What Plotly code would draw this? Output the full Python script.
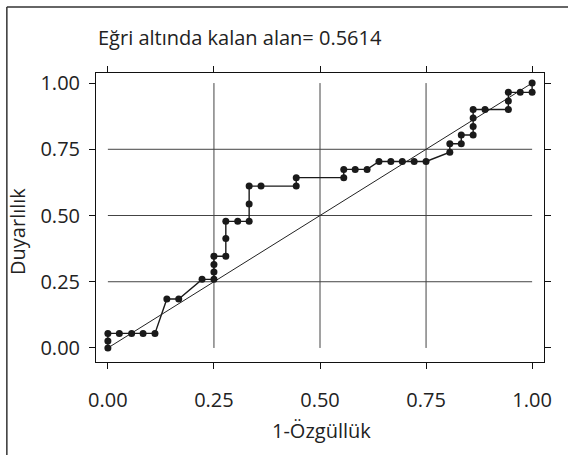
import plotly.graph_objects as go

# ROC curve points (1-specificity, sensitivity)
fpr = [0.000, 0.000, 0.000, 0.027, 0.056, 0.083, 0.111, 0.139, 0.167, 0.222,
       0.250, 0.250, 0.250, 0.250, 0.278, 0.278, 0.278, 0.306, 0.333, 0.333,
       0.333, 0.361, 0.444, 0.444, 0.556, 0.556, 0.583, 0.611, 0.639, 0.667,
       0.694, 0.722, 0.750, 0.806, 0.806, 0.833, 0.833, 0.861, 0.861, 0.861,
       0.861, 0.889, 0.944, 0.944, 0.944, 0.972, 1.000, 1.000]
tpr = [0.000, 0.026, 0.055, 0.055, 0.055, 0.055, 0.055, 0.185, 0.185, 0.259,
       0.259, 0.287, 0.315, 0.346, 0.346, 0.413, 0.478, 0.478, 0.478, 0.543,
       0.611, 0.611, 0.611, 0.643, 0.643, 0.674, 0.674, 0.674, 0.704, 0.704,
       0.704, 0.704, 0.704, 0.739, 0.771, 0.771, 0.804, 0.804, 0.836, 0.868,
       0.900, 0.900, 0.900, 0.932, 0.965, 0.965, 0.965, 1.000]

ref_x = [0, 1]
ref_y = [0, 1]

tick_vals = [0, 0.25, 0.5, 0.75, 1.0]
tick_text = ["0.00", "0.25", "0.50", "0.75", "1.00"]
grid_vals = [0.25, 0.5, 0.75]

title_text = "Eğri altında kalan alan= 0.5614"
x_title = "1-Özgüllük"
y_title = "Duyarlılık"

FONT = "Open Sans"
TXT = "#222222"
XR = [-0.028, 1.028]
YR = [-0.053, 1.038]

fig = go.Figure()
fig.add_trace(go.Scatter(x=ref_x, y=ref_y, mode="lines",
                         line=dict(color="#222222", width=1), hoverinfo="skip"))
fig.add_trace(go.Scatter(x=fpr, y=tpr, mode="lines+markers",
                         line=dict(color="#1a1a1a", width=1.4),
                         marker=dict(color="#1a1a1a", size=7)))
# invisible trace so the mirrored top/right axes are drawn
fig.add_trace(go.Scatter(x=ref_x, y=ref_y, xaxis="x2", yaxis="y2", mode="lines",
                         line=dict(width=0), opacity=0, hoverinfo="skip"))

shapes = []
for g in grid_vals:
    shapes.append(dict(type="line", xref="x", yref="y", x0=g, x1=g, y0=0, y1=1,
                       line=dict(color="#444444", width=1), layer="below"))
    shapes.append(dict(type="line", xref="x", yref="y", x0=0, x1=1, y0=g, y1=g,
                       line=dict(color="#444444", width=1), layer="below"))
# outer frame (top and left edges)
shapes.append(dict(type="line", xref="paper", yref="paper", x0=-0.199, x1=1.2,
                   y0=1.2284, y1=1.2284, line=dict(color="#333333", width=1.5)))
shapes.append(dict(type="line", xref="paper", yref="paper", x0=-0.199, x1=-0.199,
                   y0=1.2284, y1=-0.4, line=dict(color="#333333", width=1.5)))

axis_common = dict(
    tickmode="array", tickvals=tick_vals, ticktext=tick_text,
    showgrid=False, zeroline=False, showline=True, linecolor="#111111",
    linewidth=1, ticks="outside", ticklen=6, tickwidth=1,
    tickcolor="#111111", tickfont=dict(family=FONT, size=20, color=TXT),
)

fig.update_layout(
    width=568, height=455,
    margin=dict(l=96, r=24, t=73, b=93),
    paper_bgcolor="white", plot_bgcolor="white",
    showlegend=False,
    shapes=shapes,
    xaxis=dict(range=XR, ticklabelstandoff=14, **axis_common),
    yaxis=dict(range=YR, ticklabelstandoff=5, **axis_common),
    xaxis2=dict(range=XR, overlaying="x", side="top", anchor="y", showticklabels=False,
                **axis_common),
    yaxis2=dict(range=YR, overlaying="y", side="right", anchor="x", showticklabels=False,
                **axis_common),
    annotations=[
        dict(text=title_text, xref="paper", yref="paper", x=0.0, y=1.0 + (73 - 38) / 289,
             xanchor="left", yanchor="middle", showarrow=False,
             font=dict(family=FONT, size=20, color=TXT)),
        dict(text=x_title, xref="paper", yref="paper", x=0.504, y=(362 - 430) / 289,
             xanchor="center", yanchor="middle", showarrow=False,
             font=dict(family=FONT, size=20, color=TXT)),
        dict(text=y_title, xref="paper", yref="paper", x=(18 - 96) / 448, y=0.45,
             xanchor="center", yanchor="middle", showarrow=False, textangle=-90,
             font=dict(family=FONT, size=20, color=TXT)),
    ],
)

fig.write_html("out.html", config={"displayModeBar": False},
               post_script="document.body.style.margin='0px';document.body.style.overflow='hidden';")
